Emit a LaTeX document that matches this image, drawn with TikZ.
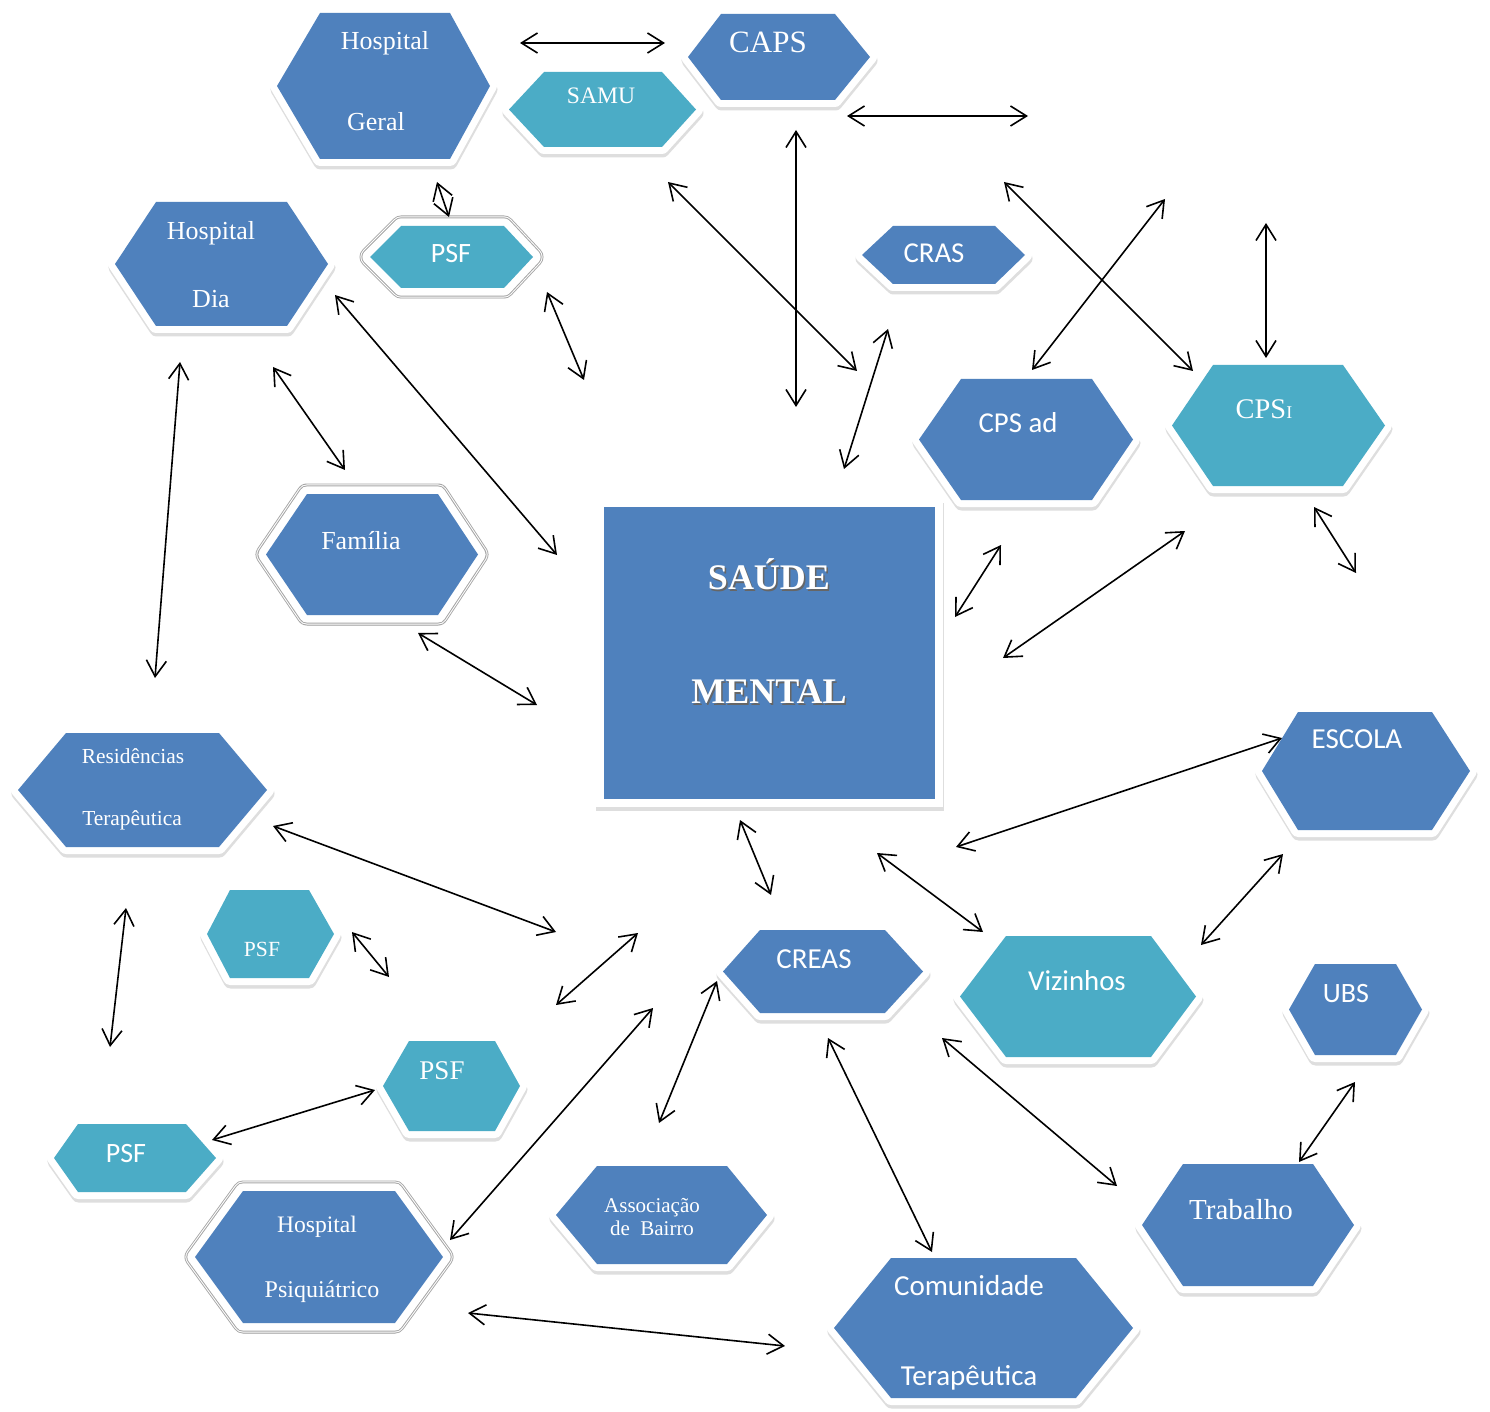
\documentclass[tikz,border=0pt]{standalone}
\usepackage{fontspec}
\setmainfont{Liberation Serif}
\newfontfamily\calibri{Carlito}
\usetikzlibrary{arrows.meta}
\definecolor{hblue}{HTML}{4F81BD}
\definecolor{hteal}{HTML}{4BACC6}
\colorlet{shadowc}{black!13}
\newcommand{\fs}[1]{\fontsize{#1}{#1}\selectfont}
% generic hexagon path: options, xL, xTL, xTR, xR, ytop, ybot
\newcommand{\hx}[7]{\path[#1] (#2,{(#6+#7)/2}) -- (#3,#6) -- (#4,#6) -- (#5,{(#6+#7)/2}) -- (#4,#7) -- (#3,#7) -- cycle;}
% name, fill, xL, xTL, xTR, xR, ytop, ybot
\newcommand{\hexbox}[8]{%
  \hx{draw=shadowc, fill=shadowc, line width=7pt, line join=round, shift={(0.5,3.5)}}{#3}{#4}{#5}{#6}{#7}{#8}%
  \hx{draw=white, line width=7pt, line join=round}{#3}{#4}{#5}{#6}{#7}{#8}%
  \hx{fill=#2}{#3}{#4}{#5}{#6}{#7}{#8}%
  \coordinate (#1) at ({(#3+#6)/2},{(#7+#8)/2});}
\newcommand{\hexboxd}[8]{%
  \hx{draw=shadowc, fill=shadowc, line width=7pt, line join=round, shift={(0.5,3.5)}}{#3}{#4}{#5}{#6}{#7}{#8}%
  \hx{draw=gray!70, line width=10.5pt, line join=round}{#3}{#4}{#5}{#6}{#7}{#8}%
  \hx{draw=white, line width=9.6pt, line join=round}{#3}{#4}{#5}{#6}{#7}{#8}%
  \hx{draw=gray!70, line width=8.6pt, line join=round}{#3}{#4}{#5}{#6}{#7}{#8}%
  \hx{draw=white, line width=7.6pt, line join=round}{#3}{#4}{#5}{#6}{#7}{#8}%
  \hx{fill=#2}{#3}{#4}{#5}{#6}{#7}{#8}%
  \coordinate (#1) at ({(#3+#6)/2},{(#7+#8)/2});}
\newcommand{\link}[5]{\coordinate (#1s) at (#2,#3); \coordinate (#1e) at (#4,#5); \draw[conn] (#1s) -- (#1e);}
\tikzset{
  txt/.style={text=white, anchor=base, inner sep=0pt},
  conn/.style={draw=black, line width=0.8pt, {Straight Barb[length=8pt,width=10pt]}-{Straight Barb[length=8pt,width=10pt]}},
}
\begin{document}
\begin{tikzpicture}[x=0.5pt,y=-0.5pt]
\useasboundingbox[fill=white] (0,0) rectangle (1490,1412);

% ---- central square ----
\fill[shadowc] (596,503) rectangle (944,811);
\fill[white] (596,500) rectangle (943,807);
\fill[hblue] (604,507) rectangle (935,799);
\coordinate (sm) at (769,653);

% ---- hexagons ----
\hexbox{hg}{hblue}{277}{320}{450}{490}{13}{159}
\hexbox{samu}{hteal}{509}{544}{662}{696}{72}{147}
\hexbox{capsH}{hblue}{688}{721}{835}{870}{14}{100}
\hexboxd{psfA}{hteal}{370}{401}{504}{533}{226}{288}
\hexbox{hd}{hblue}{115}{156}{287}{328}{202}{326}
\hexbox{crasH}{hblue}{862}{893}{995}{1025}{226}{284}
\hexbox{cpsadH}{hblue}{919}{961}{1092}{1133}{379}{500}
\hexbox{cpsiH}{hteal}{1172}{1213}{1343}{1385}{365}{486}
\hexboxd{famH}{hblue}{266}{307}{438}{478}{494}{615}
\hexbox{escH}{hblue}{1262}{1298}{1432}{1470}{712}{830}
\hexbox{resH}{hblue}{18}{66}{219}{267}{733}{847}
\hexbox{psfB}{hteal}{207}{230}{309}{334}{890}{978}
\hexbox{psfC}{hteal}{383}{409}{495}{520}{1041}{1131}
\hexbox{psfD}{hteal}{54}{78}{186}{216}{1124}{1192}
\hexbox{creasH}{hblue}{723}{760}{885}{923}{930}{1013}
\hexbox{vizH}{hteal}{960}{1006}{1151}{1196}{936}{1057}
\hexbox{ubsH}{hblue}{1289}{1315}{1396}{1422}{964}{1055}
\hexbox{trabH}{hblue}{1142}{1183}{1313}{1354}{1164}{1286}
\hexbox{comH}{hblue}{834}{891}{1076}{1133}{1258}{1398}
\hexbox{assH}{hblue}{556}{597}{727}{767}{1166}{1264}
\hexboxd{hpH}{hblue}{195}{243}{395}{443}{1191}{1323}

% ---- texts ----
\node[txt,font=\fs{13}] (hgA) at (385,50) {Hospital};
\node[txt,font=\fs{13}] (hgB) at (376,131) {Geral};
\node[txt,font=\fs{15.5}] (caps) at (768,53) {CAPS};
\node[txt,font=\fs{11.8}] (samuT) at (601,104) {SAMU};
\node[txt,font=\calibri\fs{14}] (psfAT) at (451,263) {PSF};
\node[txt,font=\fs{13}] (hdA) at (211,240) {Hospital};
\node[txt,font=\fs{13}] (hdB) at (211,308) {Dia};
\node[txt,font=\calibri\fs{14.4}] (cras) at (934,263) {CRAS};
\node[txt,font=\calibri\fs{14.4}] (cpsad) at (1018,432) {CPS ad};
\node[txt,font=\fs{14.2}] (cpsi) at (1264,419) {CPS{\fs{9}I}};
\node[txt,font=\fs{13}] (fam) at (361,549) {Família};
\node[txt,text=black!60,font=\bfseries\fs{18}] (smAs) at (770.5,591) {SAÚDE};
\node[txt,font=\bfseries\fs{18}] (smA) at (769,589) {SAÚDE};
\node[txt,text=black!60,font=\bfseries\fs{18}] (smBs) at (770.5,705) {MENTAL};
\node[txt,font=\bfseries\fs{18}] (smB) at (769,703) {MENTAL};
\node[txt,font=\calibri\fs{14.5}] (esc) at (1357,748) {ESCOLA};
\node[txt,font=\fs{10.7}] (resA) at (133,763) {Residências};
\node[txt,font=\fs{10.7}] (resB) at (132,825) {Terapêutica};
\node[txt,font=\fs{10.8}] (psfBT) at (262,956) {PSF};
\node[txt,font=\fs{13.5}] (psfCT) at (442,1079) {PSF};
\node[txt,font=\calibri\fs{14}] (psfDT) at (126,1162) {PSF};
\node[txt,font=\calibri\fs{14.5}] (creas) at (814,968) {CREAS};
\node[txt,font=\calibri\fs{14.4}] (viz) at (1077,990) {Vizinhos};
\node[txt,font=\calibri\fs{14}] (ubs) at (1346,1002) {UBS};
\node[txt,font=\fs{14.5}] (trab) at (1241,1219) {Trabalho};
\node[txt,font=\calibri\fs{14.5}] (comA) at (969,1295) {Comunidade};
\node[txt,font=\calibri\fs{14.5}] (comB) at (969,1385) {Terapêutica};
\node[txt,font=\fs{10.5}] (assA) at (652,1212) {Associação};
\node[txt,font=\fs{10.5}] (assB) at (652,1235) {de\ \ Bairro};
\node[txt,font=\fs{11.8}] (hpA) at (317,1232) {Hospital};
\node[txt,font=\fs{12}] (hpB) at (322,1297) {Psiquiátrico};

% ---- connectors ----
\link{a1}{520}{43}{665}{43}
\link{a2}{847}{116}{1028}{116}
\link{a3}{796}{130}{796}{407}
\link{a4}{668}{182}{857}{371}
\link{a5}{1004}{182}{1193}{371}
\link{a6}{1165}{199}{1032}{370}
\link{a7}{1266}{223}{1266}{358}
\link{a8}{437}{182}{449}{217}
\link{a9}{547}{292}{584}{380}
\link{a10}{335}{295}{557}{555}
\link{a11}{273}{367}{345}{470}
\link{a12}{180}{362}{155}{678}
\link{a13}{888}{329}{844}{469}
\link{a14}{1001}{545}{955}{617}
\link{a15}{1185}{531}{1003}{658}
\link{a16}{1314}{507}{1356}{573}
\link{a17}{418}{633}{537}{705}
\link{a18}{740}{820}{771}{895}
\link{a19}{1282}{738}{956}{847}
\link{a20}{877}{853}{983}{932}
\link{a21}{1283}{854}{1201}{945}
\link{a22}{273}{826}{556}{932}
\link{a23}{126}{908}{110}{1047}
\link{a24}{352}{932}{389}{977}
\link{a25}{638}{933}{556}{1005}
\link{a26}{717}{981}{659}{1123}
\link{a27}{653}{1008}{450}{1240}
\link{a28}{375}{1090}{212}{1140}
\link{a29}{828}{1038}{932}{1252}
\link{a30}{942}{1038}{1117}{1186}
\link{a31}{1355}{1082}{1299}{1162}
\link{a32}{468}{1313}{785}{1346}
\end{tikzpicture}
\end{document}
